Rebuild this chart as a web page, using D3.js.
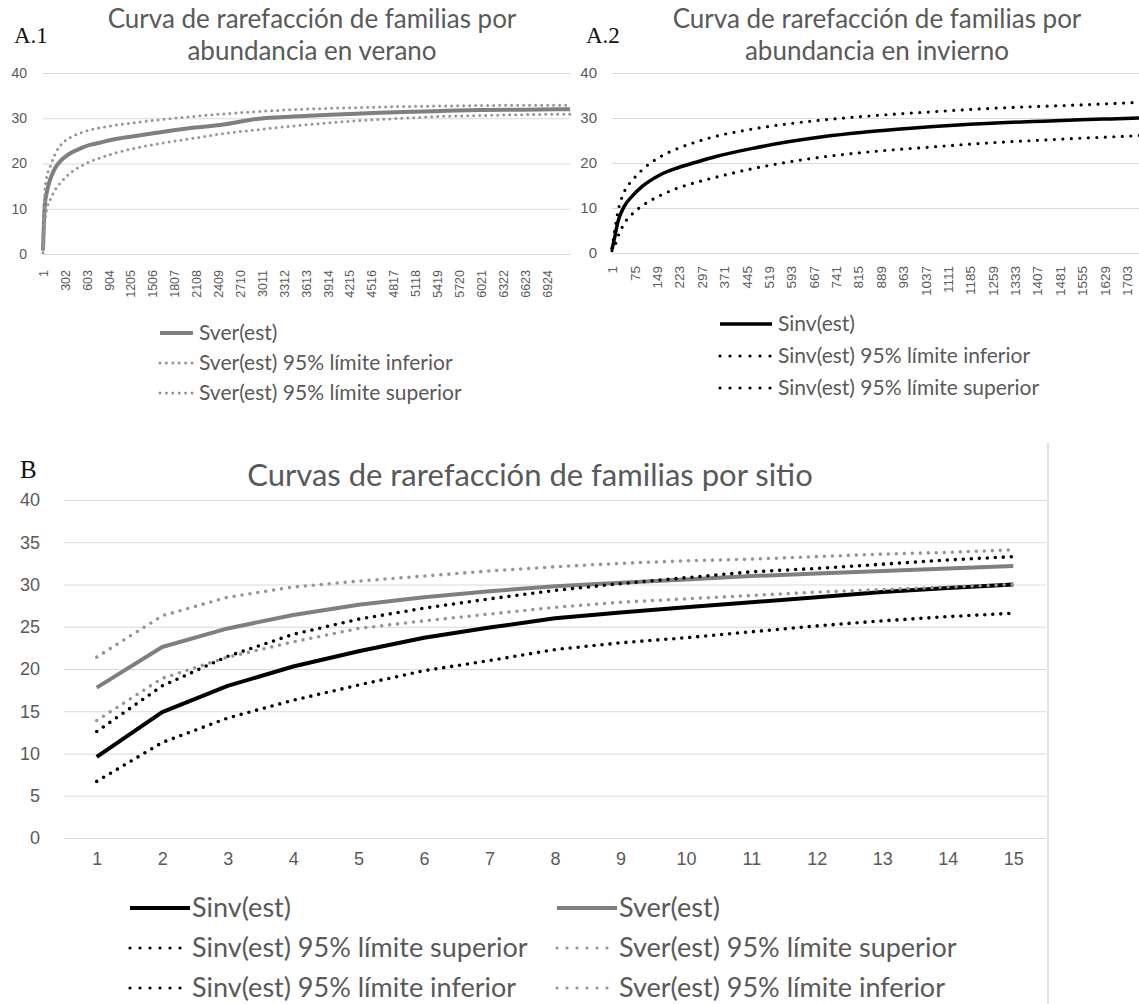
<!DOCTYPE html>
<html><head><meta charset="utf-8">
<script src="https://cdn.jsdelivr.net/npm/d3@7"></script>
<style>
body{margin:0;background:#fff}
svg{display:block;font-family:Lato,'Open Sans',sans-serif}
</style>
</head><body>
<script>
// ---------- A.1 : verano (individuos) ----------
const verX   = [1, 25, 50, 100, 165, 257, 371, 509, 646, 783, 966, 1241, 1563, 2000, 2436, 2970, 3444, 3950, 4453, 4950, 5461, 6000, 6600, 7244];
const verEst = [0.8, 10.8, 13.4, 16.5, 18.9, 20.8, 22.2, 23.3, 24.1, 24.6, 25.3, 26.0, 26.8, 27.8, 28.5, 29.9, 30.4, 30.8, 31.1, 31.4, 31.6, 31.8, 31.9, 32.0];
const verLo  = [0.3, 6.8, 9.7, 12.0, 14.1, 16.0, 17.8, 19.3, 20.4, 21.2, 22.2, 23.3, 24.3, 25.4, 26.5, 27.5, 28.3, 29.0, 29.6, 30.0, 30.4, 30.6, 30.8, 30.9];
const verUp  = [1.0, 13.5, 16.8, 19.3, 22.0, 24.3, 25.7, 26.7, 27.4, 27.9, 28.4, 29.0, 29.6, 30.3, 30.9, 31.5, 31.9, 32.2, 32.4, 32.6, 32.7, 32.8, 32.9, 32.9];
const verTicks = [1,302,603,904,1205,1506,1807,2108,2409,2710,3011,3312,3613,3914,4215,4516,4817,5118,5419,5720,6021,6322,6623,6924];

// ---------- A.2 : invierno (individuos) ----------
const invX   = [1, 10, 20, 41, 70, 101, 161, 221, 290, 342, 462, 583, 703, 824, 944, 1065, 1185, 1306, 1426, 1547, 1650, 1749];
const invEst = [0.8, 3.5, 6.8, 10.3, 12.8, 14.8, 17.4, 19.0, 20.4, 21.4, 23.2, 24.7, 25.9, 26.8, 27.5, 28.1, 28.6, 29.0, 29.3, 29.6, 29.8, 30.0];
const invLo  = [0.5, 1.5, 3.5, 6.5, 8.8, 10.5, 12.8, 14.5, 15.9, 16.8, 18.7, 20.2, 21.4, 22.3, 23.0, 23.6, 24.2, 24.7, 25.1, 25.5, 25.8, 26.1];
const invUp  = [1.0, 5.0, 9.0, 13.5, 16.3, 18.5, 21.4, 23.3, 24.9, 25.9, 27.5, 28.7, 29.6, 30.3, 30.9, 31.4, 31.9, 32.3, 32.6, 32.9, 33.2, 33.5];
const invTicks = [1,75,149,223,297,371,445,519,593,667,741,815,889,963,1037,1111,1185,1259,1333,1407,1481,1555,1629,1703];

const aYTicks = [0, 10, 20, 30, 40];

// ---------- B : por sitio ----------
const sites  = [1,2,3,4,5,6,7,8,9,10,11,12,13,14,15];
const sinv   = [9.6, 14.9, 18.0, 20.3, 22.1, 23.7, 24.9, 26.0, 26.7, 27.3, 27.9, 28.5, 29.1, 29.6, 30.0];
const sver   = [17.8, 22.6, 24.8, 26.4, 27.6, 28.5, 29.2, 29.8, 30.2, 30.6, 31.0, 31.3, 31.6, 31.9, 32.2];
const sinvUp = [12.6, 18.0, 21.5, 24.1, 25.9, 27.2, 28.3, 29.3, 30.1, 30.8, 31.5, 31.9, 32.4, 32.9, 33.3];
const sverUp = [21.4, 26.3, 28.5, 29.7, 30.4, 31.0, 31.6, 32.1, 32.5, 32.8, 33.0, 33.3, 33.6, 33.8, 34.1];
const sinvLo = [6.7, 11.3, 14.2, 16.3, 18.1, 19.8, 21.0, 22.3, 23.1, 23.7, 24.4, 25.1, 25.7, 26.2, 26.6];
const sverLo = [13.9, 18.9, 21.4, 23.2, 24.8, 25.7, 26.5, 27.3, 27.9, 28.3, 28.7, 29.1, 29.4, 29.7, 30.0];
const bYTicks = [0, 5, 10, 15, 20, 25, 30, 35, 40];

// ---------- styles ----------
const TXT = '#595959', GRID = '#d9d9d9';
const GRAY = '#7f7f7f', GRAYDOT = '#959595', BLACK = '#000';

const svg = d3.select('body').append('svg').attr('width', 1139).attr('height', 1004);

function styleSeries(sel, s) {
  sel.attr('fill', 'none').attr('stroke', s.color).attr('stroke-width', s.width)
     .attr('stroke-linejoin', 'round');
  if (s.dot) sel.attr('stroke-dasharray', `0 ${s.dot}`).attr('stroke-linecap', 'round');
  return sel;
}

// ---------- A panels ----------
function panelA(cfg) {
  const g = svg.append('g');
  const x = d3.scaleLinear().domain(cfg.xDomain).range(cfg.xRange);
  const y = d3.scaleLinear().domain([0, 40]).range([cfg.y0, cfg.y40]);

  const ya = g.append('g').attr('transform', `translate(${cfg.xRange[0]},0)`)
    .call(d3.axisLeft(y).tickValues(aYTicks).tickSize(-(cfg.gridEnd - cfg.xRange[0])).tickPadding(cfg.yPad).tickFormat(d3.format('d')));
  ya.select('.domain').remove();
  ya.selectAll('line').attr('stroke', GRID);
  ya.selectAll('text').attr('fill', TXT).attr('font-size', cfg.yFont);

  const xa = g.append('g').attr('transform', `translate(0,${cfg.y0})`)
    .call(d3.axisBottom(x).tickValues(cfg.ticks).tickSize(0).tickFormat(d3.format('d')));
  xa.select('.domain').remove();
  xa.selectAll('text').attr('fill', TXT).attr('font-size', cfg.xFont)
    .attr('transform', 'rotate(-90)').attr('text-anchor', 'end')
    .attr('x', -cfg.xLabOff).attr('y', 0).attr('dy', '0.35em');

  const line = d3.line().x(d => x(d[0])).y(d => y(d[1])).curve(d3.curveMonotoneX);
  const plot = g.append('g');
  cfg.series.forEach(s => {
    styleSeries(plot.append('path').attr('d', line(d3.zip(cfg.xs, s.values))), s);
  });

  // titles
  cfg.title.forEach((t, i) => {
    g.append('text').attr('x', cfg.titleX).attr('y', cfg.titleY + i * 32)
      .attr('text-anchor', 'middle').attr('fill', TXT).attr('font-size', 26).text(t);
  });
  g.append('text').attr('x', cfg.tagX).attr('y', 43).attr('font-family', "'Liberation Serif','Times New Roman',serif")
    .attr('font-size', 23).attr('fill', '#111').text(cfg.tag);

  // legend
  cfg.series.forEach((s, i) => {
    const yy = cfg.legY + i * cfg.legStep;
    const ls = Object.assign({}, s, s.dot ? {dot: cfg.legDot} : {});
    styleSeries(g.append('line').attr('x1', cfg.legX).attr('x2', cfg.legX + cfg.legLen)
      .attr('y1', yy).attr('y2', yy), ls);
    g.append('text').attr('x', cfg.legX + cfg.legLen + 6).attr('y', yy).attr('dy', '0.35em')
      .attr('fill', TXT).attr('font-size', cfg.legFont).text(s.name);
  });
}

panelA({
  xDomain: [1, 7244], xRange: [43, 570], gridEnd: 570, y0: 254, y40: 73,
  yPad: 16, yFont: 14, xFont: 12.5, xLabOff: 16, ticks: verTicks, xs: verX,
  series: [
    {name: 'Sver(est)', values: verEst, color: GRAY, width: 4},
    {name: 'Sver(est) 95% límite inferior', values: verLo, color: GRAYDOT, width: 3, dot: 6},
    {name: 'Sver(est) 95% límite superior', values: verUp, color: GRAYDOT, width: 3, dot: 6}
  ],
  title: ['Curva de rarefacción de familias por', 'abundancia en verano'], titleX: 312, titleY: 28,
  tag: 'A.1', tagX: 14,
  legX: 160, legLen: 33, legDot: 6.4, legY: 333, legStep: 30, legFont: 21
});

panelA({
  xDomain: [1, 1750], xRange: [612, 1141], gridEnd: 1139, y0: 253, y40: 73,
  yPad: 15, yFont: 15, xFont: 13.5, xLabOff: 13, ticks: invTicks, xs: invX,
  series: [
    {name: 'Sinv(est)', values: invEst, color: BLACK, width: 3.5},
    {name: 'Sinv(est) 95% límite inferior', values: invLo, color: BLACK, width: 3.2, dot: 8.5},
    {name: 'Sinv(est) 95% límite superior', values: invUp, color: BLACK, width: 3.2, dot: 8.5}
  ],
  title: ['Curva de rarefacción de familias por', 'abundancia en invierno'], titleX: 877, titleY: 28,
  tag: 'A.2', tagX: 586,
  legX: 720, legLen: 52, legDot: 10, legY: 324, legStep: 32, legFont: 21
});

// ---------- B panel ----------
(function () {
  const g = svg.append('g');
  const x = d3.scalePoint().domain(sites).range([64, 1046]).padding(0.5);
  const y = d3.scaleLinear().domain([0, 40]).range([838, 500]);

  g.append('line').attr('x1', 1048).attr('x2', 1048).attr('y1', 443).attr('y2', 1004)
    .attr('stroke', GRID).attr('stroke-width', 1.5);

  const ya = g.append('g').attr('transform', 'translate(64,0)')
    .call(d3.axisLeft(y).tickValues(bYTicks).tickSize(-(1046 - 64)).tickPadding(24));
  ya.select('.domain').remove();
  ya.selectAll('line').attr('stroke', GRID).attr('stroke-width', 1.2);
  ya.selectAll('text').attr('fill', TXT).attr('font-size', 18);

  const xa = g.append('g').attr('transform', 'translate(0,838)')
    .call(d3.axisBottom(x).tickSize(0).tickPadding(14));
  xa.select('.domain').remove();
  xa.selectAll('text').attr('fill', TXT).attr('font-size', 18);

  const series = [
    {name: 'Sinv(est)', values: sinv, color: BLACK, width: 4},
    {name: 'Sver(est)', values: sver, color: GRAY, width: 4},
    {name: 'Sinv(est) 95% límite superior', values: sinvUp, color: BLACK, width: 3.6, dot: 8},
    {name: 'Sver(est) 95% límite superior', values: sverUp, color: GRAYDOT, width: 3.6, dot: 8},
    {name: 'Sinv(est) 95% límite inferior', values: sinvLo, color: BLACK, width: 3.6, dot: 8},
    {name: 'Sver(est) 95% límite inferior', values: sverLo, color: GRAYDOT, width: 3.6, dot: 8}
  ];
  const line = d3.line().x(d => x(d[0])).y(d => y(d[1]));
  series.forEach(s => styleSeries(g.append('path').attr('d', line(d3.zip(sites, s.values))), s));

  g.append('text').attr('x', 530).attr('y', 486).attr('text-anchor', 'middle')
    .attr('fill', TXT).attr('font-size', 31).text('Curvas de rarefacción de familias por sitio');
  g.append('text').attr('x', 20).attr('y', 478).attr('font-family', "'Liberation Serif','Times New Roman',serif")
    .attr('font-size', 25).attr('fill', '#111').text('B');

  series.forEach((s, i) => {
    const col = i % 2, row = Math.floor(i / 2);
    const lx = col ? 557 : 130, yy = 908 + row * 40;
    const ls = Object.assign({}, s, s.dot ? {width: 3.2, dot: 10} : {});
    const len = s.dot ? 52 : 60;
    styleSeries(g.append('line').attr('x1', lx).attr('x2', lx + len).attr('y1', yy).attr('y2', yy), ls);
    g.append('text').attr('x', lx + 62).attr('y', yy).attr('dy', '0.35em')
      .attr('fill', TXT).attr('font-size', 27).text(s.name);
  });
})();
</script>
</body></html>
